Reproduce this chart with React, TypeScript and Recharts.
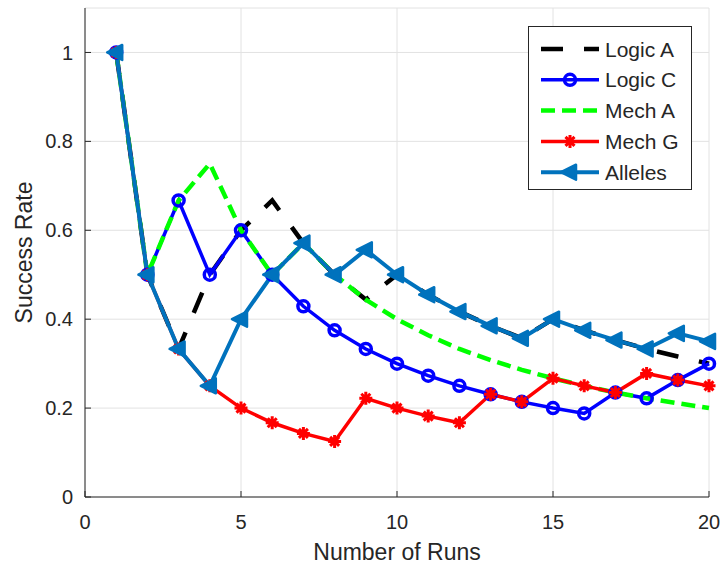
import React from "react";
import { CartesianGrid, Legend, Line, LineChart, XAxis, YAxis } from "recharts";

// values
const runs = [1, 2, 3, 4, 5, 6, 7, 8, 9, 10, 11, 12, 13, 14, 15, 16, 17, 18, 19, 20];
const logicA = [1, 0.5, 0.333, 0.5, 0.6, 0.667, 0.571, 0.5, 0.444, 0.5, 0.455, 0.417, 0.385, 0.357, 0.4, 0.375, 0.353, 0.333, 0.316, 0.3];
const logicC = [1, 0.5, 0.667, 0.5, 0.6, 0.5, 0.429, 0.375, 0.333, 0.3, 0.273, 0.25, 0.231, 0.214, 0.2, 0.188, 0.235, 0.222, 0.263, 0.3];
const mechA = [1, 0.5, 0.667, 0.75, 0.6, 0.5, 0.571, 0.5, 0.444, 0.4, 0.364, 0.333, 0.308, 0.286, 0.267, 0.25, 0.235, 0.222, 0.211, 0.2];
const mechG = [1, 0.5, 0.333, 0.25, 0.2, 0.167, 0.143, 0.125, 0.222, 0.2, 0.182, 0.167, 0.231, 0.214, 0.267, 0.25, 0.235, 0.278, 0.263, 0.25];
const alleles = [1, 0.5, 0.333, 0.25, 0.4, 0.5, 0.571, 0.5, 0.556, 0.5, 0.455, 0.417, 0.385, 0.357, 0.4, 0.375, 0.353, 0.333, 0.368, 0.35];

const xTicks = [0, 5, 10, 15, 20];
const yTicks = [0, 0.2, 0.4, 0.6, 0.8, 1];
const legendOrder = ["logicA", "logicC", "mechA", "mechG", "alleles"];

const data = runs.map((run, i) => ({
  run,
  logicA: logicA[i],
  logicC: logicC[i],
  mechA: mechA[i],
  mechG: mechG[i],
  alleles: alleles[i],
}));

const TEXT = "#262626";

type Marker = "none" | "circle" | "star" | "left";

const seriesStyle: Record<string, { color: string; dash?: string; width: number; marker: Marker }> = {
  logicA: { color: "#000000", dash: "22 21", width: 4.5, marker: "none" },
  logicC: { color: "#0000ff", width: 3.5, marker: "circle" },
  mechA: { color: "#00ff00", dash: "14 7", width: 4.5, marker: "none" },
  mechG: { color: "#ff0000", width: 3.5, marker: "star" },
  alleles: { color: "#0072bd", width: 4, marker: "left" },
};

function markerShape(type: Marker, cx: number, cy: number, color: string, key?: string) {
  if (type === "circle") {
    return <circle key={key} cx={cx} cy={cy} r={5.5} fill="none" stroke={color} strokeWidth={3.5} />;
  }
  if (type === "star") {
    const d = `M${cx - 6.5},${cy}h13M${cx},${cy - 6.5}v13M${cx - 4.5},${cy - 4.5}l9,9M${cx - 4.5},${cy + 4.5}l9,-9`;
    return <path key={key} d={d} stroke={color} strokeWidth={3} fill="none" />;
  }
  if (type === "left") {
    const d = `M${cx - 9},${cy}L${cx + 6},${cy - 7.5}L${cx + 6},${cy + 7.5}Z`;
    return <path key={key} d={d} stroke={color} strokeWidth={2.5} fill={color} strokeLinejoin="round" />;
  }
  return null;
}

const makeDot = (dataKey: string) => (props: any) => {
  const { cx, cy, index } = props;
  const s = seriesStyle[dataKey];
  if (cx == null || cy == null) return <g key={`${dataKey}-${index}`} />;
  return markerShape(s.marker, cx, cy, s.color, `${dataKey}-${index}`);
};

const renderLegend = (props: any) => {
  const payload = [...(props.payload || [])].sort(
    (a: any, b: any) => legendOrder.indexOf(a.dataKey) - legendOrder.indexOf(b.dataKey)
  );
  return (
    <div style={{ width: 164, height: 164, border: `1px solid ${TEXT}`, background: "#fff", boxSizing: "border-box" }}>
      <svg width={162} height={162}>
        {payload.map((entry: any, i: number) => {
          const s = seriesStyle[entry.dataKey];
          const y = 22 + 30.8 * i;
          return (
            <g key={entry.dataKey}>
              <line x1={12} x2={70} y1={y} y2={y} stroke={s.color} strokeWidth={s.width} strokeDasharray={s.dash} />
              {markerShape(s.marker, 41, y, s.color)}
              <text x={76} y={y} dominantBaseline="central" fontSize={21} fill={TEXT}>
                {entry.value}
              </text>
            </g>
          );
        })}
      </svg>
    </div>
  );
};

export default function App() {
  return (
    <div style={{ position: "absolute", left: 0, top: 0, fontFamily: "'Liberation Sans', Arial, sans-serif", background: "#fff" }}>
      <LineChart width={723} height={567} data={data} margin={{ top: 8, right: 14, left: 0, bottom: 0 }}>
        <CartesianGrid stroke="#e2e2e2" strokeWidth={1} />
        <XAxis
          dataKey="run"
          type="number"
          domain={[0, 20]}
          ticks={xTicks}
          height={70}
          stroke={TEXT}
          tickSize={-6}
          tickMargin={24}
          tick={{ fill: TEXT, fontSize: 20 }}
          label={{ value: "Number of Runs", position: "insideBottom", offset: 7, style: { fill: TEXT, fontSize: 23 } }}
        />
        <XAxis xAxisId="top" orientation="top" type="number" domain={[0, 20]} ticks={xTicks} height={0} stroke={TEXT} tickSize={-6} tick={false} />
        <YAxis
          type="number"
          domain={[0, 1.1]}
          ticks={yTicks}
          width={85}
          stroke={TEXT}
          tickSize={-6}
          tickMargin={18}
          tick={{ fill: TEXT, fontSize: 20 }}
          label={{ value: "Success Rate", angle: -90, position: "insideLeft", offset: 24, style: { textAnchor: "middle", fill: TEXT, fontSize: 23 } }}
        />
        <YAxis yAxisId="right" orientation="right" type="number" domain={[0, 1.1]} ticks={yTicks} width={0} stroke={TEXT} tickSize={-6} tick={false} />
        <Legend layout="vertical" align="center" verticalAlign="middle" width={164} wrapperStyle={{ left: 528, top: 26 }} content={renderLegend} />
        <Line dataKey="logicA" name="Logic A" stroke="#000000" strokeWidth={4.5} strokeDasharray="22 21" dot={false} activeDot={false} isAnimationActive={false} />
        <Line dataKey="logicC" name="Logic C" stroke="#0000ff" strokeWidth={3.5} dot={makeDot("logicC")} activeDot={false} isAnimationActive={false} />
        <Line dataKey="mechA" name="Mech A" stroke="#00ff00" strokeWidth={4.5} strokeDasharray="14 7" dot={false} activeDot={false} isAnimationActive={false} />
        <Line dataKey="mechG" name="Mech G" stroke="#ff0000" strokeWidth={3.5} dot={makeDot("mechG")} activeDot={false} isAnimationActive={false} />
        <Line dataKey="alleles" name="Alleles" stroke="#0072bd" strokeWidth={4} dot={makeDot("alleles")} activeDot={false} isAnimationActive={false} />
      </LineChart>
    </div>
  );
}
